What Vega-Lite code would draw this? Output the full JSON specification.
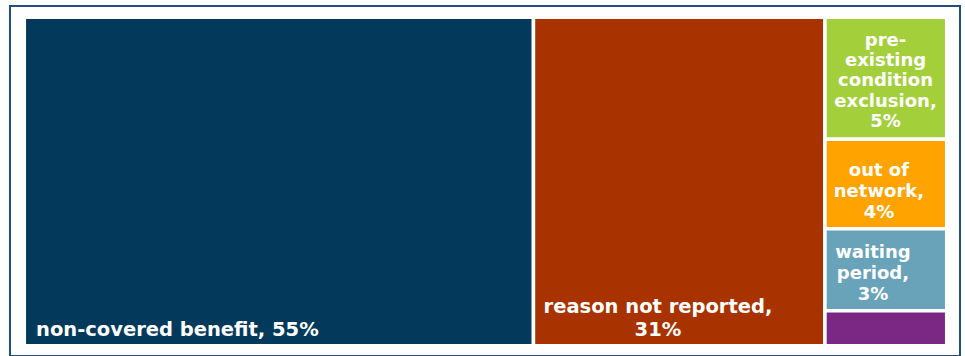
{
  "$schema": "https://vega.github.io/schema/vega-lite/v6.json",
  "width": 950,
  "height": 350,
  "autosize": "none",
  "padding": {"left": 10, "top": 6, "right": 5, "bottom": 0},
  "background": "white",
  "config": {
    "view": {"stroke": "#1f4f7d", "strokeWidth": 2},
    "text": {"lineBreak": "\n"}
  },
  "data": {
    "values": [
      {"reason": "non-covered benefit", "pct": 55.2, "column": "A", "order": 1, "label": "non-covered benefit, 55%"},
      {"reason": "reason not reported", "pct": 31.6, "column": "B", "order": 2, "label": "reason not reported,\n31%"},
      {"reason": "pre-existing condition exclusion", "pct": 4.9, "column": "C", "order": 3, "label": "pre-\nexisting\ncondition\nexclusion,\n5%"},
      {"reason": "out of network", "pct": 3.6, "column": "C", "order": 4, "label": "out of\nnetwork,\n4%"},
      {"reason": "waiting period", "pct": 3.3, "column": "C", "order": 5, "label": "waiting\nperiod,\n3%"},
      {"reason": "other", "pct": 1.4, "column": "C", "order": 6, "label": ""}
    ]
  },
  "transform": [
    {"stack": "pct", "groupby": [], "sort": [{"field": "order"}], "as": ["sx0", "sx1"]},
    {"joinaggregate": [{"op": "min", "field": "sx0", "as": "cx0"}, {"op": "max", "field": "sx1", "as": "cx1"}], "groupby": ["column"]},
    {"stack": "pct", "groupby": ["column"], "sort": [{"field": "order"}], "offset": "normalize", "as": ["cy0", "cy1"]}
  ],
  "encoding": {
    "x": {"field": "cx0", "type": "quantitative", "axis": null, "scale": {"domain": [0, 100], "range": [14.3, 936.7], "nice": false, "zero": false}},
    "y": {"field": "cy0", "type": "quantitative", "axis": null, "scale": {"domain": [0, 1], "range": [11.3, 339.7], "nice": false, "zero": false}}
  },
  "layer": [
    {
      "mark": {"type": "rect", "stroke": "white", "strokeWidth": 3.5},
      "encoding": {
        "x2": {"field": "cx1"},
        "y2": {"field": "cy1"},
        "fill": {
          "field": "reason", "type": "nominal", "legend": null,
          "scale": {
            "domain": ["non-covered benefit", "reason not reported", "pre-existing condition exclusion", "out of network", "waiting period", "other"],
            "range": ["#033a5c", "#a83300", "#a3cf3b", "#ffa300", "#68a3ba", "#7b2884"]
          }
        }
      }
    },
    {
      "transform": [{"filter": "datum.order == 1"}],
      "mark": {"type": "text", "align": "left", "baseline": "bottom", "dx": 11.7, "dy": -6, "font": "DejaVu Sans", "fontWeight": "bold", "fontSize": 19.5, "fill": "white"},
      "encoding": {"y": {"field": "cy1", "type": "quantitative"}, "text": {"field": "label"}}
    },
    {
      "transform": [{"filter": "datum.order == 2"}],
      "mark": {"type": "text", "align": "center", "baseline": "bottom", "dx": 124.5, "dy": -29, "lineHeight": 23, "font": "DejaVu Sans", "fontWeight": "bold", "fontSize": 19.5, "fill": "white"},
      "encoding": {"y": {"field": "cy1", "type": "quantitative"}, "text": {"field": "label"}}
    },
    {
      "transform": [{"filter": "datum.order == 3"}],
      "mark": {"type": "text", "align": "center", "baseline": "top", "dx": 60.6, "dy": 14.7, "lineHeight": 20.2, "font": "DejaVu Sans", "fontWeight": "bold", "fontSize": 18, "fill": "white"},
      "encoding": {"text": {"field": "label"}}
    },
    {
      "transform": [{"filter": "datum.order == 4"}],
      "mark": {"type": "text", "align": "center", "baseline": "top", "dx": 54, "dy": 22.3, "lineHeight": 21, "font": "DejaVu Sans", "fontWeight": "bold", "fontSize": 18, "fill": "white"},
      "encoding": {"text": {"field": "label"}}
    },
    {
      "transform": [{"filter": "datum.order == 5"}],
      "mark": {"type": "text", "align": "center", "baseline": "top", "dx": 48, "dy": 15.2, "lineHeight": 21, "font": "DejaVu Sans", "fontWeight": "bold", "fontSize": 18, "fill": "white"},
      "encoding": {"text": {"field": "label"}}
    }
  ]
}
